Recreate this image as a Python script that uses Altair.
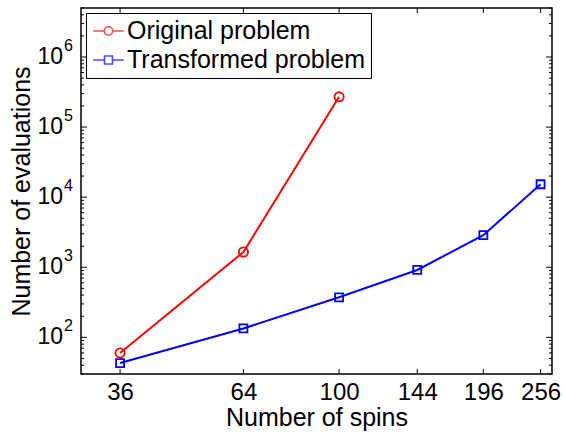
import altair as alt
import pandas as pd

# ---- data ----
names = ["Original problem", "Transformed problem"]
spins_orig = [36, 64, 100]
evals_orig = [60, 1650, 270000]
spins_trans = [36, 64, 100, 144, 196, 256]
evals_trans = [43, 134, 373, 915, 2870, 15300]

x_ticks = [36, 64, 100, 144, 196, 256]
y_decades = [2, 3, 4, 5, 6]
x_domain = [30, 270]
y_domain = [30, 5e6]

colors = ["#ff0000", "#0000ff"]
shapes = ["circle", "square"]
marker_sizes = [85, 64]

FONT = "Liberation Sans"
W, H = 471, 366

df = pd.DataFrame({
    "spins": spins_orig + spins_trans,
    "evals": evals_orig + evals_trans,
    "series": [names[0]] * len(spins_orig) + [names[1]] * len(spins_trans),
})

major_y = [10 ** d for d in y_decades]
minor_y = [m * 10 ** k for k in range(1, 7) for m in range(2, 10)
           if y_domain[0] <= m * 10 ** k <= y_domain[1]]
ymaj = pd.DataFrame({"v": major_y, "d": [str(d) for d in y_decades]})
ymin = pd.DataFrame({"v": minor_y})
xt = pd.DataFrame({"v": x_ticks})

xs = alt.Scale(type="log", domain=x_domain, nice=False)
ys = alt.Scale(type="log", domain=y_domain, nice=False)

x_axis = alt.Axis(
    values=x_ticks, format="d", title="Number of spins", grid=False,
    ticks=False, domain=False, labelFontSize=24, labelFont=FONT,
    labelColor="black", labelPadding=6, labelFlush=False,
    titleFontSize=25, titleFont=FONT, titleFontWeight="normal",
    titleColor="black", titlePadding=1)
y_axis = alt.Axis(
    labels=False, ticks=False, domain=False, grid=False,
    title="Number of evaluations", titleFontSize=25, titleFont=FONT,
    titleFontWeight="normal", titleColor="black", titlePadding=47)


def X(field):
    return alt.X(field, scale=xs, axis=x_axis)


def Y(field):
    return alt.Y(field, scale=ys, axis=y_axis)


layers = []
for name, col, shp, msz in zip(names, colors, shapes, marker_sizes):
    sub = alt.Chart(df).transform_filter(alt.datum.series == name)
    layers.append(sub.mark_line(color=col, strokeWidth=2).encode(
        x=X("spins:Q"), y=Y("evals:Q")))
    layers.append(sub.mark_point(color=col, shape=shp, filled=False, size=msz,
                                 strokeWidth=1.8, opacity=1).encode(
        x=X("spins:Q"), y=Y("evals:Q")))

# legend symbols: line with marker (custom SVG paths)
c = 0.375
pO = (f"M-0.9,0H{c-0.35}M{c+0.35},0H1.65M{c+0.35},0"
      f"A0.35,0.35,0,1,1,{c-0.35},0A0.35,0.35,0,1,1,{c+0.35},0")
pS = (f"M-0.9,0H{c-0.33}M{c+0.33},0H1.65"
      f"M{c-0.33},-0.33H{c+0.33}V0.33H{c-0.33}Z")

leg = dict(orient="none", legendX=5, legendY=5, title=None,
           labelFontSize=25, labelFont=FONT, labelColor="black", labelLimit=0,
           symbolSize=576, symbolStrokeWidth=1.6, strokeColor="black",
           fillColor="white", padding=5, rowPadding=3, labelOffset=10,
           cornerRadius=0, symbolFillColor="transparent")
legend_layer = alt.Chart(df).transform_filter("false").mark_point(
    filled=False, strokeWidth=1.6).encode(
    x=X("spins:Q"), y=Y("evals:Q"),
    color=alt.Color("series:N", scale=alt.Scale(domain=names, range=colors),
                    legend=alt.Legend(**leg)),
    shape=alt.Shape("series:N", scale=alt.Scale(domain=names, range=[pO, pS]),
                    legend=alt.Legend(**leg)),
)


# inward ticks
def yrule(data, x0, x1):
    return alt.Chart(data).mark_rule(color="black", strokeWidth=1).encode(
        y=Y("v:Q"), x=alt.value(x0), x2=alt.value(x1))


def xrule(y0, y1):
    return alt.Chart(xt).mark_rule(color="black", strokeWidth=1).encode(
        x=X("v:Q"), y=alt.value(y0), y2=alt.value(y1))


ticks = [
    yrule(ymaj, 0, 6), yrule(ymaj, W - 6, W),
    yrule(ymin, 0, 3), yrule(ymin, W - 3, W),
    xrule(H - 5, H), xrule(0, 5),
]

ylab_base = alt.Chart(ymaj).mark_text(
    align="right", baseline="middle", fontSize=23, font=FONT, color="black"
).encode(y=Y("v:Q"), x=alt.value(-18), text=alt.value("10"))
ylab_exp = alt.Chart(ymaj).mark_text(
    align="left", baseline="middle", fontSize=16, font=FONT, color="black", dy=-11
).encode(y=Y("v:Q"), x=alt.value(-17), text="d:N")

chart = alt.layer(*layers, *ticks, ylab_base, ylab_exp, legend_layer).properties(
    width=W, height=H,
    background="white",
    autosize=alt.AutoSizeParams(type="none"),
    padding={"left": 81, "top": 8, "right": 11, "bottom": 58},
).configure_view(stroke="black", strokeWidth=1.5)

chart.save("out.html", embed_options={"renderer": "svg", "actions": False})
